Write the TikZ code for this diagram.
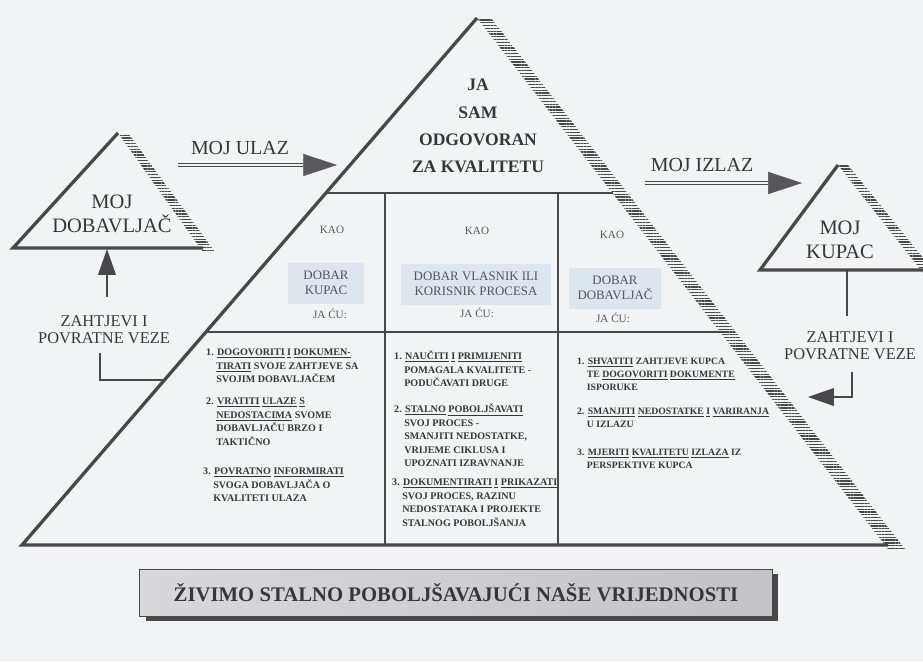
\documentclass[tikz,border=0pt]{standalone}
\usepackage{fontspec}
\setmainfont{Liberation Serif}
\usepackage{tikz}
\usetikzlibrary{arrows.meta,calc,patterns.meta,shadows}
\definecolor{paper}{RGB}{242,243,245}
\definecolor{inkgray}{RGB}{55,55,58}
\definecolor{softgray}{RGB}{85,85,90}
\definecolor{linegray}{RGB}{72,72,75}
\definecolor{headgray}{RGB}{88,88,92}
\definecolor{roleblue}{RGB}{221,229,237}
\definecolor{bannerlight}{RGB}{216,216,218}
\definecolor{bannerdark}{RGB}{196,196,199}

\newcommand{\uw}[1]{\underline{#1}}
\newcommand{\hg}{\phantom{1.\ }}

\begin{document}
\begin{tikzpicture}[x=0.03cm, y=-0.03cm,
    wall/.style={draw=linegray, line width=2.8pt, line join=miter},
    divider/.style={draw=linegray, line width=2pt},
    hatch/.style={pattern={Lines[angle=0,distance=2.4pt,line width=1.1pt]}, pattern color=linegray},
    shaft/.style={draw=linegray, line width=1.2pt, double=paper, double distance=1.8pt},
    bighead/.style={-{Triangle[length=29pt,width=19pt]}, draw=headgray, line width=0.4pt},
    fbline/.style={draw=linegray, line width=1.3pt},
    fbhead/.style={-{Triangle[length=22pt,width=15pt]}},
    tlabel/.style={align=center, text=inkgray, font=\fontsize{17.5}{20.5}\selectfont},
    alabel/.style={text=inkgray, font=\fontsize{17}{20}\selectfont},
    fblabel/.style={align=center, text=inkgray, font=\fontsize{14}{14.5}\selectfont},
    crown/.style={align=center, text=inkgray, font=\fontsize{15}{23.3}\selectfont\bfseries},
    kao/.style={text=softgray, font=\fontsize{9.5}{11}\selectfont},
    rolebox/.style={fill=roleblue, align=center, text=softgray, minimum height=35pt,
        inner sep=1pt, font=\fontsize{11}{12.8}\selectfont},
    duty/.style={anchor=north west, align=left, inner sep=0pt, text=inkgray,
        font=\fontsize{8.6}{11.5}\selectfont\bfseries},
    dutyR/.style={duty, font=\fontsize{8.3}{11.2}\selectfont\bfseries},
    mottobox/.style={draw=linegray, line width=1pt, left color=bannerlight, right color=bannerdark,
        minimum width=540pt, minimum height=40pt, text=inkgray,
        font=\fontsize{17.7}{20}\selectfont\bfseries,
        general shadow={fill=linegray, shadow xshift=5pt, shadow yshift=-4pt}}]

    \useasboundingbox (0,0) rectangle (923,661);
    \clip (0,0) rectangle (923,661);
    \fill[paper] (0,0) rectangle (923,661);

    % Main pyramid
    \coordinate (apex) at (477,18);
    \coordinate (bl) at (22,545);
    \coordinate (br) at (888,545);
    \coordinate (roofL) at ($(apex)!0.332!(bl)$);
    \coordinate (roofR) at ($(apex)!0.332!(br)$);
    \coordinate (midL) at ($(apex)!0.596!(bl)$);
    \coordinate (midR) at ($(apex)!0.596!(br)$);

    \fill[hatch] (apex) -- ++(14,0) -- ($(br)+(17,4)$) -- ($(br)+(0,4)$) -- cycle;
    \draw[wall] (br) -- (bl) -- (apex);
    \draw[divider] (roofL) -- (roofR);
    \draw[divider] (midL) -- (midR);
    \foreach \x in {385,558} {
        \draw[divider] (\x,193) -- (\x,545);
    }

    % Small triangles
    \coordinate (supApex) at (118,133);
    \coordinate (supBL) at (13,248);
    \coordinate (supBR) at (203,248);
    \fill[hatch] (supApex) -- ++(10,0) -- ($(supBR)+(12,4)$) -- ($(supBR)+(0,4)$) -- cycle;
    \draw[wall] (supBR) -- (supBL) -- (supApex);

    \coordinate (cusApex) at (838,165);
    \coordinate (cusBL) at (760,270);
    \coordinate (cusBR) at (924,270);
    \fill[hatch] (cusApex) -- ++(10,0) -- ($(cusBR)+(12,4)$) -- ($(cusBR)+(0,4)$) -- cycle;
    \draw[wall] (cusBR) -- (cusBL) -- (cusApex);

    \node[tlabel] (supplier) at (112,214) {MOJ\\DOBAVLJAČ};
    \node[tlabel] (customer) at (840,240) {MOJ\\KUPAC};

    % Input / output
    \node[alabel] (inlbl) at (240,148) {MOJ ULAZ};
    \node[alabel] (outlbl) at (702,165) {MOJ IZLAZ};
    \coordinate (inA) at (178,165);
    \coordinate (inM) at (303,165);
    \coordinate (inB) at (337,165);
    \coordinate (outA) at (645,183);
    \coordinate (outM) at (768,183);
    \coordinate (outB) at (802,183);
    \draw[shaft] (inA) -- (inM);
    \draw[bighead] (inM) -- (inB);
    \draw[shaft] (outA) -- (outM);
    \draw[bighead] (outM) -- (outB);

    % Feedback
    \node[fblabel] (fbIn) at (104,330) {ZAHTJEVI I\\POVRATNE VEZE};
    \node[fblabel] (fbOut) at (850,346) {ZAHTJEVI I\\POVRATNE VEZE};
    \coordinate (supFoot) at (107,249);
    \coordinate (fbInTop) at (107,297);
    \coordinate (fbInLow) at (100,353);
    \coordinate (edgeIn) at (164,380);
    \draw[fbline, fbhead] (fbInTop) -- (supFoot);
    \draw[fbline] (fbInLow) |- (edgeIn);
    \coordinate (cusFoot) at (847,271);
    \coordinate (fbOutTop) at (847,316);
    \coordinate (fbOutLow) at (852,372);
    \coordinate (fbOutTip) at (808,397);
    \draw[fbline] (cusFoot) -- (fbOutTop);
    \draw[fbline, fbhead] (fbOutLow) |- (fbOutTip);

    % Top of the pyramid
    \node[crown] (crown) at (478,126) {JA\\SAM\\ODGOVORAN\\ZA KVALITETU};

    % Roles
    \node[kao] (kaoA) at (332,230) {KAO};
    \node[kao] (kaoB) at (477,231) {KAO};
    \node[kao] (kaoC) at (612,235) {KAO};
    \node[rolebox, minimum width=65pt] (roleA) at (326,283) {DOBAR\\KUPAC};
    \node[rolebox, minimum width=128pt] (roleB) at (476,284) {DOBAR VLASNIK ILI\\KORISNIK PROCESA};
    \node[rolebox, minimum width=78pt] (roleC) at (615,288) {DOBAR\\DOBAVLJAČ};
    \node[kao] (willA) at (330,314) {JA ĆU:};
    \node[kao] (willB) at (477,313) {JA ĆU:};
    \node[kao] (willC) at (613,318) {JA ĆU:};

    % Duties
    \node[duty] (dutyA1) at (206,349) {1. \uw{DOGOVORITI} \uw{I} \uw{DOKUMEN-}\\\hg\uw{TIRATI} SVOJE ZAHTJEVE SA\\\hg SVOJIM DOBAVLJAČEM};
    \node[duty] (dutyA2) at (206,398) {2. \uw{VRATITI} \uw{ULAZE} \uw{S}\\\hg\uw{NEDOSTACIMA} SVOME\\\hg DOBAVLJAČU BRZO I\\\hg TAKTIČNO};
    \node[duty] (dutyA3) at (203,468) {3. \uw{POVRATNO} \uw{INFORMIRATI}\\\hg SVOGA DOBAVLJAČA O\\\hg KVALITETI ULAZA};

    \node[duty] (dutyB1) at (394,351) {1. \uw{NAUČITI} \uw{I} \uw{PRIMIJENITI}\\\hg POMAGALA KVALITETE -\\\hg PODUČAVATI DRUGE};
    \node[duty] (dutyB2) at (394,404) {2. \uw{STALNO} \uw{POBOLJŠAVATI}\\\hg SVOJ PROCES -\\\hg SMANJITI NEDOSTATKE,\\\hg VRIJEME CIKLUSA I\\\hg UPOZNATI IZRAVNANJE};
    \node[duty] (dutyB3) at (392,479) {3. \uw{DOKUMENTIRATI} \uw{I} \uw{PRIKAZATI}\\\hg SVOJ PROCES, RAZINU\\\hg NEDOSTATAKA I PROJEKTE\\\hg STALNOG POBOLJŠANJA};

    \node[dutyR] (dutyC1) at (577,358) {1. \uw{SHVATITI} ZAHTJEVE KUPCA\\\hg TE \uw{DOGOVORITI} \uw{DOKUMENTE}\\\hg ISPORUKE};
    \node[dutyR] (dutyC2) at (577,408) {2. \uw{SMANJITI} \uw{NEDOSTATKE} \uw{I} \uw{VARIRANJA}\\\hg U IZLAZU};
    \node[dutyR] (dutyC3) at (577,449) {3. \uw{MJERITI} \uw{KVALITETU} \uw{IZLAZA} IZ\\\hg PERSPEKTIVE KUPCA};

    % Motto
    \node[mottobox] (slogan) at (456,593) {ŽIVIMO STALNO POBOLJŠAVAJUĆI NAŠE VRIJEDNOSTI};

\end{tikzpicture}
\end{document}
